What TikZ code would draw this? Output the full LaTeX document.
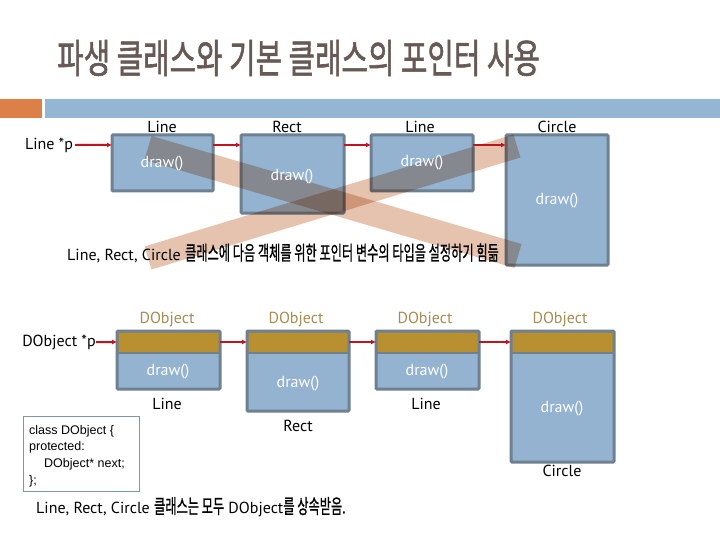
\documentclass[tikz,border=0pt]{standalone}
\usepackage{fontspec}
\usepackage{graphicx}
\setmainfont{PT Sans}
\newfontfamily\krfont[FakeBold=1.0]{Noto Sans CJK KR}
\newfontfamily\krtitle[FakeBold=1.5]{Noto Sans CJK KR}
\newfontfamily\codefont{Liberation Sans}
\usetikzlibrary{arrows.meta}
\definecolor{titlec}{HTML}{675A55}
\definecolor{orangec}{HTML}{DD8047}
\definecolor{barblue}{HTML}{94B6D2}
\definecolor{boxblue}{HTML}{94B3D0}
\definecolor{boxborder}{HTML}{6E8091}
\definecolor{arrred}{HTML}{C0141E}
\definecolor{brownc}{HTML}{B8902F}
\definecolor{dobjc}{HTML}{A58F52}
\definecolor{bandc}{HTML}{E6C3AF}
\definecolor{codeborder}{HTML}{7D97AD}
\newcommand\ko[1]{\scalebox{0.61}[1]{\fontsize{20bp}{20bp}\selectfont\krfont #1}}
\newcommand\fs[1]{\fontsize{#1bp}{#1bp}\selectfont}
\begin{document}
\begin{tikzpicture}[x=1bp,y=-1bp,
  box/.style={fill=boxblue, draw=boxborder, line width=3bp, rounded corners=1bp, anchor=north west, inner sep=0pt, outer sep=0pt},
  dobj/.style={box, path picture={\fill[brownc] (path picture bounding box.north west) rectangle ([yshift=-22bp]path picture bounding box.north east); \draw[boxborder, line width=2bp] ([yshift=-22bp]path picture bounding box.north west) -- ([yshift=-22bp]path picture bounding box.north east);}},
  lbl/.style={font=\fs{16}, text=black, inner sep=0pt},
  drw/.style={font=\fs{16}, text=white, inner sep=0pt},
  dl/.style={font=\fs{16}, text=dobjc, inner sep=0pt},
  ptr/.style={draw=arrred, line width=2bp, -{Latex[length=5bp,width=5bp]}},
  band/.style={draw=bandc, line width=25bp, line cap=butt, blend mode=multiply},
]
\fill[white] (0,0) rectangle (720,540);
\useasboundingbox (0,0) rectangle (720,540);

% title and header bar
\node[anchor=west, inner sep=0pt, text=titlec] (title) at (57,58) {\scalebox{0.72}[1]{\fs{40}\krtitle 파생 클래스와 기본 클래스의 포인터 사용}};
\fill[orangec] (0,99) rectangle (42,118);
\fill[barblue] (45,99) rectangle (720,118);

% top row boxes
\node[box, minimum width=101bp, minimum height=56bp] (b1) at (112,135) {};
\node[box, minimum width=103bp, minimum height=78bp] (b2) at (241,135) {};
\node[box, minimum width=102bp, minimum height=56bp] (b3) at (371,135) {};
\node[box, minimum width=102bp, minimum height=130bp] (b4) at (506,135) {};

% the cross
\coordinate (xa1) at (148,148);
\coordinate (xa2) at (518,256);
\coordinate (xb1) at (148,258);
\coordinate (xb2) at (517,146);
\draw[band] (xa1) -- (xa2);
\draw[band, line width=24bp] (xb1) -- (xb2);

% top row labels
\node[lbl] (t1) at (162,127) {Line};
\node[lbl] (t2) at (287,127) {Rect};
\node[lbl] (t3) at (420,127) {Line};
\node[lbl] (t4) at (557,127) {Circle};
\node[drw] (d1) at (162,164) {draw()};
\node[drw] (d2) at (292,177) {draw()};
\node[drw] (d3) at (422,163) {draw()};
\node[drw] (d4) at (557,201) {draw()};

\node[lbl] (lp) at (49,145) {Line *p};
\draw[ptr] (lp.east) ++(2bp,0) -- ([yshift=-10bp]b1.north west);
\draw[ptr] ([yshift=-10bp]b1.north east) -- ([yshift=-10bp]b2.north west);
\draw[ptr] ([yshift=-10bp]b2.north east) -- ([yshift=-10bp]b3.north west);
\draw[ptr] ([yshift=-10bp]b3.north east) -- ([yshift=-10bp]b4.north west);

\node[lbl, anchor=west] (note1) at (67,253) {Line, Rect, Circle \ko{클래스에 다음 객체를 위한 포인터 변수의 타입을 설정하기 힘듦}};

% bottom row
\node[dobj, minimum width=103bp, minimum height=58bp] (c1) at (117,331) {};
\node[dobj, minimum width=102bp, minimum height=80bp] (c2) at (247,331) {};
\node[dobj, minimum width=103bp, minimum height=58bp] (c3) at (376,331) {};
\node[dobj, minimum width=103bp, minimum height=131bp] (c4) at (511,331) {};

\node[dl] (u1) at (167,319) {DObject};
\node[dl] (u2) at (296,319) {DObject};
\node[dl] (u3) at (425,319) {DObject};
\node[dl] (u4) at (560,319) {DObject};
\node[drw] (e1) at (168,372) {draw()};
\node[drw] (e2) at (298,384) {draw()};
\node[drw] (e3) at (427,372) {draw()};
\node[drw] (e4) at (562,409) {draw()};
\node[lbl] (n1) at (167,404) {Line};
\node[lbl] (n2) at (298,426) {Rect};
\node[lbl] (n3) at (426,404) {Line};
\node[lbl] (n4) at (562,471) {Circle};

\node[lbl] (dp) at (59,342) {DObject *p};
\draw[ptr] (dp.east) -- ([yshift=-11bp]c1.north west);
\draw[ptr] ([yshift=-11bp]c1.north east) -- ([yshift=-11bp]c2.north west);
\draw[ptr] ([yshift=-11bp]c2.north east) -- ([yshift=-11bp]c3.north west);
\draw[ptr] ([yshift=-11bp]c3.north east) -- ([yshift=-11bp]c4.north west);

% code box
\node[draw=codeborder, line width=1bp, anchor=north west, inner sep=0pt, outer sep=0pt, minimum width=116bp, minimum height=75bp] (code) at (23,416) {};
\node[anchor=north west, inner sep=0pt, align=left, font={\codefont\fontsize{12.5bp}{16.7bp}\selectfont}, text=black] (codetext) at (29,425)
  {class DObject \{\\ protected:\\ \hspace*{15bp}DObject* next;\\ \};};

\node[lbl, anchor=west] (note2) at (36,507) {Line, Rect, Circle \ko{클래스는 모두} DObject\ko{를 상속받음.}};
\end{tikzpicture}
\end{document}
